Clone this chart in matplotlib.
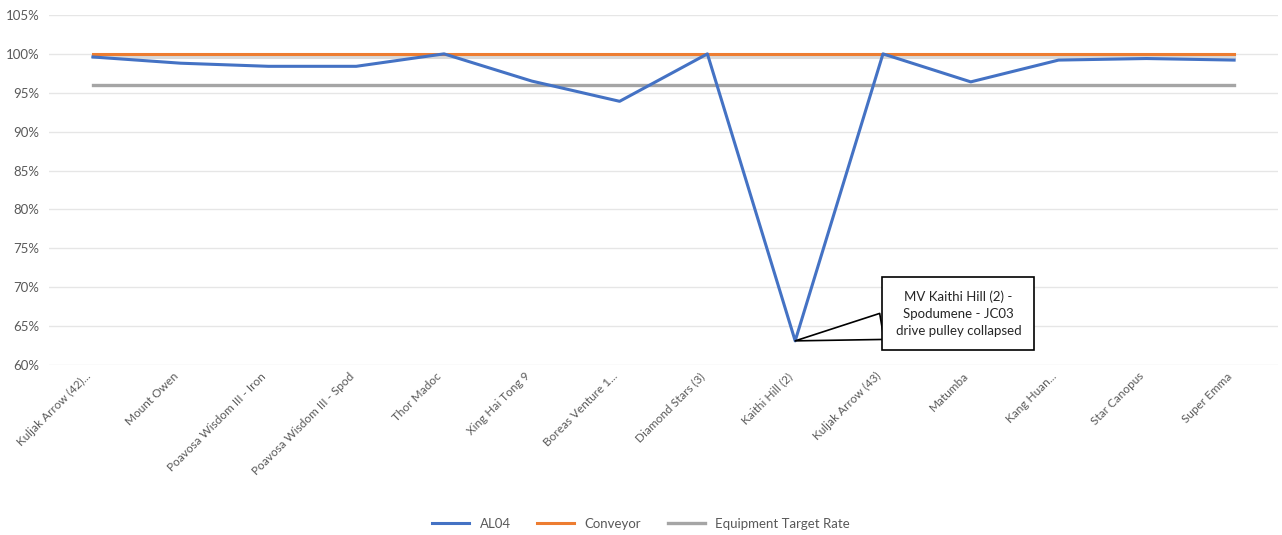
import matplotlib.pyplot as plt
import matplotlib.transforms as mtransforms
from matplotlib.ticker import PercentFormatter

# vessel names and rates
vessels = ["Kuljak Arrow (42)...", "Mount Owen", "Poavosa Wisdom III - Iron",
           "Poavosa Wisdom III - Spod", "Thor Madoc", "Xing Hai Tong 9",
           "Boreas Venture 1...", "Diamond Stars (3)", "Kaithi Hill (2)",
           "Kuljak Arrow (43)", "Matumba", "Kang Huan...", "Star Canopus",
           "Super Emma"]
al04 = [99.6, 98.8, 98.4, 98.4, 100.0, 96.5, 93.9, 100.0, 63.1, 100.0,
        96.4, 99.2, 99.4, 99.2]
conveyor = [100.0] * len(vessels)
target = [96.0] * len(vessels)

plt.rcParams['font.family'] = ['Lato', 'DejaVu Sans']

fig = plt.figure(figsize=(12.82, 5.35), dpi=100)
ax = fig.add_axes([0.0382, 0.3178, 0.9587, 0.6542])

x = list(range(len(vessels)))
ax.plot(x, al04, color='#4472C4', lw=2.2, label='AL04', zorder=4)
ax.plot(x, [c - 0.35 for c in conveyor], color='#d9d9d9', lw=2.2, zorder=2)
ax.plot(x, conveyor, color='#ED7D31', lw=2.2, label='Conveyor', zorder=3)
ax.plot(x, target, color='#A5A5A5', lw=2.4, label='Equipment Target Rate', zorder=3)

ax.set_xlim(-0.5, len(vessels) - 0.5)
ax.set_ylim(60, 105)
ax.set_yticks(range(60, 106, 5))
ax.yaxis.set_major_formatter(PercentFormatter(decimals=0))
ax.grid(axis='y', color='#e6e6e6', lw=1)
ax.set_axisbelow(True)
for s in ax.spines.values():
    s.set_visible(False)
ax.tick_params(length=0, colors='#595959', labelsize=9.5)
ax.tick_params(axis='y', pad=7)
ax.set_xticks(x)
ax.set_xticklabels(vessels, rotation=45, ha='right', rotation_mode='anchor',
                   fontsize=8.5)
ax.tick_params(axis='x', pad=4)
shift = mtransforms.ScaledTranslation(-8 / 100, 0, fig.dpi_scale_trans)
for lab in ax.get_xticklabels():
    lab.set_transform(lab.get_transform() + shift)

ax.annotate("MV Kaithi Hill (2) -\nSpodumene - JC03\ndrive pulley collapsed",
            xy=(8, al04[8]), xytext=(9.86, 66.6), ha='center', va='center',
            fontsize=9.5, color='#262626', linespacing=1.5,
            bbox=dict(boxstyle='square,pad=1.0', fc='white', ec='black', lw=1.2),
            arrowprops=dict(arrowstyle='wedge,tail_width=2.0', fc='white',
                            ec='black', lw=1.2, shrinkA=0, shrinkB=0),
            zorder=6)

fig.legend(loc='lower center', bbox_to_anchor=(0.5, -0.012), ncol=3, frameon=False,
           fontsize=9.5, labelcolor='#595959', handlelength=2.8, columnspacing=2.0)

fig.savefig('out.png', dpi=100)
